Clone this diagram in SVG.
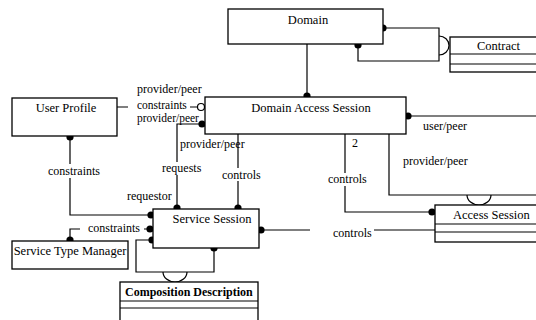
<svg xmlns="http://www.w3.org/2000/svg" width="536" height="320" viewBox="0 0 536 320">
<style>
.box{fill:#fff;stroke:#000;stroke-width:1.3}
.ln{fill:none;stroke:#000;stroke-width:1.2}
.dot{fill:#000}
.oc{fill:#fff;stroke:#000;stroke-width:1.2}
.t{font-family:"Liberation Serif","Times New Roman",serif;font-size:12.5px;fill:#000}
.b{font-weight:bold;font-size:12px}
.lb{font-family:"Liberation Serif","Times New Roman",serif;font-size:12px;fill:#000}
.sm{font-size:11.5px}
.bg{fill:#fff}
</style>
<defs>
<clipPath id="cdclip"><rect x="120" y="282" width="138" height="40"/></clipPath>
</defs>
<rect width="536" height="320" fill="#fff"/>
<g id="connectors">
<line class="ln" x1="307" y1="44" x2="307" y2="97"/>
<path class="ln" d="M383,28 H439 V61 H358 V45"/>
<path class="ln" d="M439,36 A10,9.5 0 0 1 439,55"/>
<line class="ln" x1="117" y1="107" x2="197" y2="107"/>
<path class="ln" d="M202,124 H177 V209"/>
<line class="ln" x1="238" y1="134" x2="238" y2="209"/>
<path class="ln" d="M70,136 V215 H153"/>
<path class="ln" d="M70,241 V229 H153"/>
<path class="ln" d="M153,240 H136 V272 H214 V248"/>
<path class="ln" d="M163,272 A12,10 0 0 0 187,272"/>
<line class="ln" x1="259" y1="230" x2="435" y2="230"/>
<line class="ln" x1="406" y1="116" x2="536" y2="116"/>
<path class="ln" d="M345,134 V212 H435"/>
<path class="ln" d="M389,134 V195 H536"/>
<path class="ln" d="M467,195 A12,10 0 0 0 491,195"/>
<circle class="dot" cx="307" cy="96" r="3.6"/>
<circle class="dot" cx="383" cy="28" r="3.6"/>
<circle class="dot" cx="358" cy="45" r="3.6"/>
<circle class="oc" cx="201" cy="107" r="3.5"/>
<circle class="dot" cx="202" cy="124" r="3.6"/>
<circle class="dot" cx="177" cy="208" r="3.6"/>
<circle class="dot" cx="238" cy="208" r="3.6"/>
<circle class="dot" cx="70" cy="137" r="3.6"/>
<circle class="dot" cx="151" cy="215" r="3.6"/>
<circle class="dot" cx="70" cy="240" r="3.6"/>
<circle class="dot" cx="150" cy="229" r="3.6"/>
<circle class="dot" cx="152" cy="240" r="3.6"/>
<circle class="dot" cx="214" cy="248" r="3.6"/>
<circle class="dot" cx="261" cy="230" r="3.6"/>
<circle class="dot" cx="408" cy="116" r="3.6"/>
<circle class="dot" cx="432" cy="212" r="3.6"/>
<g id="labels">
<rect class="bg" x="128" y="100" width="62" height="10"/>
<rect class="bg" x="160" y="162" width="44" height="13"/>
<rect class="bg" x="220" y="168" width="44" height="13"/>
<rect class="bg" x="46" y="164" width="58" height="14"/>
<rect class="bg" x="80" y="222" width="64" height="13"/>
<rect class="bg" x="310" y="226" width="64" height="13"/>
<rect class="bg" x="326" y="173" width="44" height="13"/>
<text class="lb" x="137" y="93">provider/peer</text>
<text class="lb sm" x="137" y="108.5">constraints</text>
<text class="lb sm" x="137" y="121.5">provider/peer</text>
<text class="lb" x="180" y="148">provider/peer</text>
<text class="lb" x="162" y="172">requests</text>
<text class="lb" x="222" y="179">controls</text>
<text class="lb" x="127" y="200">requestor</text>
<text class="lb" x="48" y="175">constraints</text>
<text class="lb" x="88" y="232">constraints</text>
<text class="lb" x="333" y="237">controls</text>
<text class="lb" x="423" y="130">user/peer</text>
<text class="lb" x="352" y="147">2</text>
<text class="lb" x="328" y="183">controls</text>
<text class="lb" x="403" y="165">provider/peer</text>
</g>
</g>
<g id="domain">
<rect class="box" x="228" y="9" width="155" height="35"/>
<text class="t" x="308" y="24" text-anchor="middle">Domain</text>
</g>
<g id="contract">
<rect class="box" x="450" y="37" width="90" height="35"/>
<line class="ln" x1="450" y1="54" x2="536" y2="54"/>
<line class="ln" x1="450" y1="64" x2="536" y2="64"/>
<text class="t" x="477" y="50">Contract</text>
</g>
<g id="user-profile">
<rect class="box" x="12" y="98" width="105" height="38"/>
<text class="t" x="66" y="112" text-anchor="middle">User Profile</text>
</g>
<g id="domain-access-session">
<rect class="box" x="205" y="97" width="201" height="37"/>
<text class="t" x="311" y="112" text-anchor="middle">Domain Access Session</text>
</g>
<g id="service-session">
<rect class="box" x="153" y="209" width="106" height="39"/>
<text class="t" x="212" y="223" text-anchor="middle">Service Session</text>
</g>
<g id="service-type-manager">
<rect class="box" x="12" y="241" width="116" height="28"/>
<text class="t" x="70" y="255" text-anchor="middle">Service Type Manager</text>
</g>
<g id="composition-description">
<rect class="box" x="120" y="282" width="138" height="45"/>
<line class="ln" x1="120" y1="301" x2="258" y2="301"/>
<line class="ln" x1="120" y1="308" x2="258" y2="308"/>
<text class="t b" x="125" y="296" clip-path="url(#cdclip)">Composition Description</text>
</g>
<g id="access-session">
<rect class="box" x="435" y="205" width="105" height="37"/>
<line class="ln" x1="435" y1="224" x2="536" y2="224"/>
<line class="ln" x1="435" y1="232" x2="536" y2="232"/>
<text class="t" x="453" y="219">Access Session</text>
</g>
</svg>
